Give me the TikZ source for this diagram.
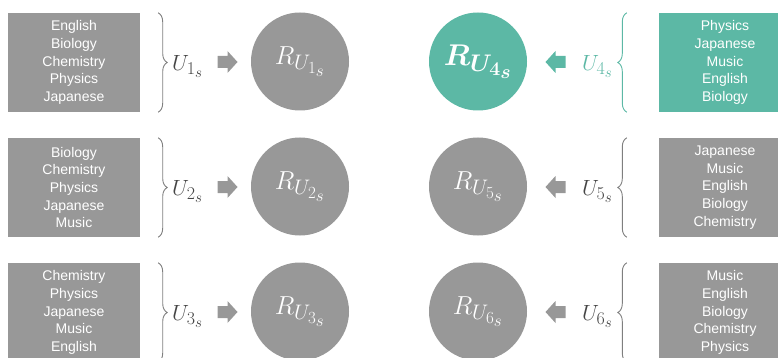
\RequirePackage{fix-cm}
\documentclass[tikz,border=0pt]{standalone}
\usepackage[no-math]{fontspec}
\newfontfamily\boxfont{Liberation Sans}
\DeclareMathSizes{22}{22}{18}{15}
\DeclareMathSizes{26}{26}{21}{17}
\DeclareMathSizes{30}{30}{24}{19.5}
\usetikzlibrary{decorations.pathreplacing,calc}
\definecolor{boxgray}{HTML}{989898}
\definecolor{tealc}{HTML}{5CB8A5}
\definecolor{bracegray}{HTML}{7F7F7F}
\definecolor{labgray}{HTML}{454545}
\begin{document}
\begin{tikzpicture}[x=1pt,y=-1pt,
  listbox/.style={fill=#1, text=white, minimum width=132pt, minimum height=99pt,
    inner sep=0pt, align=center, font=\boxfont\fontsize{14}{17.7}\selectfont},
  rcirc/.style={circle, fill=#1, minimum size=98pt, inner sep=0pt, text=white,
    font=\fontsize{26}{30}\selectfont},
  boldlab/.style={font=\fontsize{30}{34}\selectfont\boldmath},
  ulab/.style={text=#1, inner sep=0pt, font=\fontsize{22}{26}\selectfont},
  bracel/.style={draw=#1, line width=0.9pt, decorate,
    decoration={brace, amplitude=9pt}},
  pics/blockarr/.style={code={
    \fill[#1] (-10,-6) -- (0,-6) -- (0,-11) -- (10,0) -- (0,11) -- (0,6) -- (-10,6) -- cycle;}}
]
\useasboundingbox (0,0) rectangle (778,358);
\clip (0,0) rectangle (778,358);

% ---------- left column ----------
\node[listbox=boxgray] (b1) at (74,62.5) {English\\Biology\\Chemistry\\Physics\\Japanese};
\node[listbox=boxgray] (b2) at (74,187.5) {Biology\\Chemistry\\Physics\\Japanese\\Music};
\node[listbox=boxgray] (b3) at (74,312.5) {Chemistry\\Physics\\Japanese\\Music\\English};

\node[rcirc=boxgray] (r1) at (300,61.5) {$R_{U_{1_s}}$};
\node[rcirc=boxgray] (r2) at (300,186.5) {$R_{U_{2_s}}$};
\node[rcirc=boxgray] (r3) at (300,311.5) {$R_{U_{3_s}}$};

\node[ulab=labgray, anchor=base west] (u1) at (172,70.5) {$U_{1_s}$};
\node[ulab=labgray, anchor=base west] (u2) at (172,195.5) {$U_{2_s}$};
\node[ulab=labgray, anchor=base west] (u3) at (172,320.5) {$U_{3_s}$};

\coordinate (a1) at (227.5,62);
\coordinate (a2) at (227.5,187);
\coordinate (a3) at (227.5,312);
\pic at (a1) {blockarr=boxgray};
\pic at (a2) {blockarr=boxgray};
\pic at (a3) {blockarr=boxgray};

\draw[bracel=bracegray] ($(b1.north east)+(18,0)$) -- ($(b1.south east)+(18,0)$);
\draw[bracel=bracegray] ($(b2.north east)+(18,0)$) -- ($(b2.south east)+(18,0)$);
\draw[bracel=bracegray] ($(b3.north east)+(18,0)$) -- ($(b3.south east)+(18,0)$);

% ---------- right column ----------
\node[listbox=tealc] (b4) at (725,62.5) {Physics\\Japanese\\Music\\English\\Biology};
\node[listbox=boxgray] (b5) at (725,187.5) {Japanese\\Music\\English\\Biology\\Chemistry};
\node[listbox=boxgray] (b6) at (725,312.5) {Music\\English\\Biology\\Chemistry\\Physics};

\node[rcirc=tealc, boldlab] (r4) at (478,61.5) {$R_{U_{4_s}}$};
\node[rcirc=boxgray] (r5) at (478,186.5) {$R_{U_{5_s}}$};
\node[rcirc=boxgray] (r6) at (478,311.5) {$R_{U_{6_s}}$};

\node[ulab=tealc, anchor=base east] (u4) at (613,70.5) {$U_{4_s}$};
\node[ulab=labgray, anchor=base east] (u5) at (613,195.5) {$U_{5_s}$};
\node[ulab=labgray, anchor=base east] (u6) at (613,320.5) {$U_{6_s}$};

\coordinate (a4) at (555.5,62);
\coordinate (a5) at (555.5,187);
\coordinate (a6) at (555.5,312);
\pic[xscale=-1] at (a4) {blockarr=tealc};
\pic[xscale=-1] at (a5) {blockarr=boxgray};
\pic[xscale=-1] at (a6) {blockarr=boxgray};

\draw[bracel=tealc] ($(b4.south west)+(-32,0)$) -- ($(b4.north west)+(-32,0)$);
\draw[bracel=bracegray] ($(b5.south west)+(-32,0)$) -- ($(b5.north west)+(-32,0)$);
\draw[bracel=bracegray] ($(b6.south west)+(-32,0)$) -- ($(b6.north west)+(-32,0)$);
\end{tikzpicture}
\end{document}
